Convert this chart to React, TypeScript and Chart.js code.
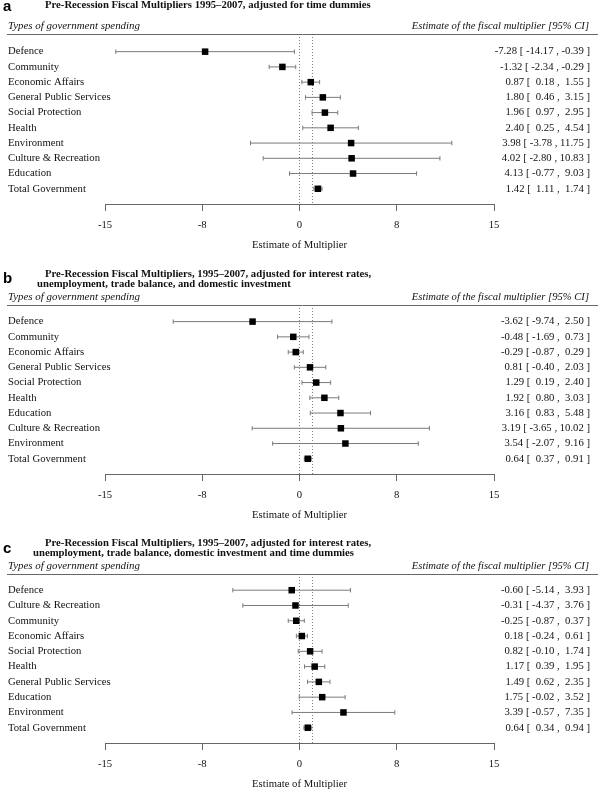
import React, { useEffect, useRef } from "react";
import { Chart, registerables } from "chart.js";

Chart.register(...registerables);

// ---------- data ----------
const xTickValues = [-15, -7.5, 0, 7.5, 15];
const xTickLabels = ["-15", "-8", "0", "8", "15"];
const referenceLines = [0, 1];
const xAxisTitle = "Estimate of Multiplier";
const leftHeader = "Types of government spending";
const rightHeader = "Estimate of the fiscal multiplier [95% CI]";

const titleA = ["Pre-Recession Fiscal Multipliers 1995–2007, adjusted for time dummies"];
const categoriesA = [
  "Defence", "Community", "Economic Affairs", "General Public Services", "Social Protection",
  "Health", "Environment", "Culture & Recreation", "Education", "Total Government",
];
const estimateA = [-7.28, -1.32, 0.87, 1.8, 1.96, 2.4, 3.98, 4.02, 4.13, 1.42];
const lowerA = [-14.17, -2.34, 0.18, 0.46, 0.97, 0.25, -3.78, -2.8, -0.77, 1.11];
const upperA = [-0.39, -0.29, 1.55, 3.15, 2.95, 4.54, 11.75, 10.83, 9.03, 1.74];

const titleB = [
  "Pre-Recession Fiscal Multipliers, 1995–2007, adjusted for interest rates,",
  "unemployment, trade balance, and domestic investment",
];
const categoriesB = [
  "Defence", "Community", "Economic Affairs", "General Public Services", "Social Protection",
  "Health", "Education", "Culture & Recreation", "Environment", "Total Government",
];
const estimateB = [-3.62, -0.48, -0.29, 0.81, 1.29, 1.92, 3.16, 3.19, 3.54, 0.64];
const lowerB = [-9.74, -1.69, -0.87, -0.4, 0.19, 0.8, 0.83, -3.65, -2.07, 0.37];
const upperB = [2.5, 0.73, 0.29, 2.03, 2.4, 3.03, 5.48, 10.02, 9.16, 0.91];

const titleC = [
  "Pre-Recession Fiscal Multipliers, 1995–2007, adjusted for interest rates,",
  "unemployment, trade balance, domestic investment and time dummies",
];
const categoriesC = [
  "Defence", "Culture & Recreation", "Community", "Economic Affairs", "Social Protection",
  "Health", "General Public Services", "Education", "Environment", "Total Government",
];
const estimateC = [-0.6, -0.31, -0.25, 0.18, 0.82, 1.17, 1.49, 1.75, 3.39, 0.64];
const lowerC = [-5.14, -4.37, -0.87, -0.24, -0.1, 0.39, 0.62, -0.02, -0.57, 0.34];
const upperC = [3.93, 3.76, 0.37, 0.61, 1.74, 1.95, 2.35, 3.52, 7.35, 0.94];

// ---------- styles ----------
const SERIF = '"Liberation Serif", "Times New Roman", serif';
const SANS = '"Liberation Sans", Arial, sans-serif';
const TEXT = "#111";
const GRAY = "#7a7a7a";
const AXIS = "#666";
const FS = 10.7;

const fmt = (v: number) => v.toFixed(2).padStart(5, " ");

type PanelProps = {
  letter: string;
  title: string[];
  titleX: number[];
  titleY: number[];
  letterY: number;
  categories: string[];
  estimate: number[];
  lower: number[];
  upper: number[];
  top: number;
  height: number;
  areaTop: number;
  areaBottom: number;
  yMin: number;
};

function Panel(p: PanelProps) {
  const ref = useRef<HTMLCanvasElement>(null);
  useEffect(() => {
    const canvas = ref.current;
    if (!canvas) return;
    const n = p.categories.length;
    const rows = p.categories.map((_, i) => i);
    const ciLabels = p.estimate.map(
      (e, i) => `${e.toFixed(2)} [ ${fmt(p.lower[i])} , ${fmt(p.upper[i])} ]`
    );

    const squares: any = {
      type: "scatter",
      data: rows.map((i) => ({ x: p.estimate[i], y: i })),
      pointStyle: "rect",
      pointRadius: 4.6,
      pointBackgroundColor: "#000",
      pointBorderWidth: 0,
      order: 0,
    };
    const whiskers: any[] = rows.map((i) => ({
      type: "scatter",
      showLine: true,
      data: [
        { x: p.lower[i], y: i },
        { x: p.upper[i], y: i },
      ],
      borderColor: GRAY,
      borderWidth: 1,
      pointStyle: "line",
      pointRotation: 90,
      pointRadius: 2.2,
      pointBorderColor: GRAY,
      pointBorderWidth: 1,
      order: 1,
    }));
    const refs: any[] = referenceLines.map((v) => ({
      type: "scatter",
      showLine: true,
      data: [
        { x: v, y: p.yMin },
        { x: v, y: n },
      ],
      borderColor: GRAY,
      borderWidth: 1,
      borderDash: [1, 2],
      pointRadius: 0,
      order: 2,
    }));

    const deco = {
      id: "deco",
      afterDraw(chart: any) {
        const { ctx, chartArea } = chart;
        ctx.save();
        ctx.strokeStyle = AXIS;
        ctx.lineWidth = 1;
        ctx.beginPath();
        ctx.moveTo(7, Math.round(chartArea.top) + 0.5);
        ctx.lineTo(598, Math.round(chartArea.top) + 0.5);
        ctx.stroke();

        ctx.fillStyle = "#000";
        ctx.textBaseline = "middle";
        ctx.textAlign = "left";
        ctx.font = `bold 15px ${SANS}`;
        ctx.fillText(p.letter, 3, p.letterY);

        ctx.fillStyle = TEXT;
        ctx.font = `bold ${FS}px ${SERIF}`;
        p.title.forEach((t, i) => ctx.fillText(t, p.titleX[i], p.titleY[i]));

        ctx.font = `italic 10.9px ${SERIF}`;
        ctx.fillText(leftHeader, 8, chartArea.top - 7.5);
        ctx.textAlign = "right";
        ctx.font = `italic 10.6px ${SERIF}`;
        ctx.fillText(rightHeader, 589, chartArea.top - 7.5);
        ctx.restore();
      },
    };

    const font = { family: SERIF, size: FS };

    const yLeft: any = {
      type: "linear",
      position: "left",
      reverse: true,
      min: p.yMin,
      max: n,
      afterBuildTicks: (s: any) => {
        s.ticks = rows.map((v) => ({ value: v }));
      },
      afterFit: (s: any) => {
        s.width = 97;
      },
      ticks: {
        autoSkip: false,
        mirror: true,
        padding: -97,
        color: TEXT,
        font,
        callback: (_v: any, i: number) => p.categories[i],
      },
      grid: { display: false },
      border: { display: false },
    };
    const yRight: any = {
      type: "linear",
      position: "right",
      reverse: true,
      min: p.yMin,
      max: n,
      afterBuildTicks: (s: any) => {
        s.ticks = rows.map((v) => ({ value: v }));
      },
      afterFit: (s: any) => {
        s.width = 96;
      },
      ticks: {
        autoSkip: false,
        crossAlign: "far",
        padding: 0,
        color: TEXT,
        font,
        callback: (_v: any, i: number) => ciLabels[i],
      },
      grid: { display: false },
      border: { display: false },
    };

    const chart = new Chart(canvas, {
      type: "scatter",
      data: { datasets: [squares, ...whiskers, ...refs] },
      plugins: [deco],
      options: {
        animation: false,
        responsive: false,
        devicePixelRatio: 1,
        events: [],
        layout: {
          padding: {
            left: 8,
            right: 10,
            top: p.areaTop,
            bottom: p.height - p.areaBottom - 46,
          },
        },
        plugins: {
          legend: { display: false },
          tooltip: { enabled: false },
          title: { display: false },
        },
        scales: {
          x: {
            type: "linear",
            min: -15,
            max: 15,
            afterBuildTicks: (s: any) => {
              s.ticks = xTickValues.map((v) => ({ value: v }));
            },
            afterFit: (s: any) => {
              s.height = 46;
            },
            ticks: {
              autoSkip: false,
              maxRotation: 0,
              padding: 8,
              color: TEXT,
              font,
              callback: (_v: any, i: number) => xTickLabels[i],
            },
            grid: {
              drawOnChartArea: false,
              drawTicks: true,
              tickLength: 7,
              color: AXIS,
            },
            border: { display: true, color: AXIS },
            title: {
              display: true,
              text: xAxisTitle,
              color: TEXT,
              font,
              padding: { top: 0, bottom: -1.5 },
            },
          },
          y: yLeft,
          yr: yRight,
        },
      } as any,
    });
    return () => chart.destroy();
  }, []);

  return (
    <div style={{ position: "absolute", left: 0, top: p.top, width: 600, height: p.height }}>
      <canvas ref={ref} width={600} height={p.height} style={{ display: "block", width: 600, height: p.height }} />
    </div>
  );
}

export default function App() {
  return (
    <div style={{ position: "absolute", left: 0, top: 0, width: 600, height: 789, background: "#fff", overflow: "hidden" }}>
      <Panel
        letter="a"
        title={titleA}
        titleX={[45]}
        titleY={[5]}
        letterY={7}
        categories={categoriesA}
        estimate={estimateA}
        lower={lowerA}
        upper={upperA}
        top={0}
        height={252}
        areaTop={34}
        areaBottom={204}
        yMin={-1.16}
      />
      <Panel
        letter="b"
        title={titleB}
        titleX={[45, 37]}
        titleY={[22.5, 32.5]}
        letterY={27}
        categories={categoriesB}
        estimate={estimateB}
        lower={lowerB}
        upper={upperB}
        top={252}
        height={270}
        areaTop={53}
        areaBottom={222}
        yMin={-1.09}
      />
      <Panel
        letter="c"
        title={titleC}
        titleX={[45, 33]}
        titleY={[21.5, 31.5]}
        letterY={27}
        categories={categoriesC}
        estimate={estimateC}
        lower={lowerC}
        upper={upperC}
        top={522}
        height={267}
        areaTop={52}
        areaBottom={221}
        yMin={-1.06}
      />
    </div>
  );
}
